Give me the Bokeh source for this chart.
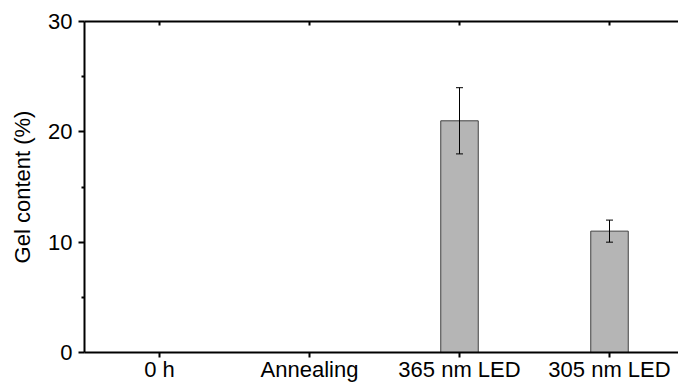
from bokeh.plotting import figure
from bokeh.models import Range1d, LinearAxis, FixedTicker, Whisker, ColumnDataSource
from bokeh.embed import file_html
from bokeh.resources import INLINE

categories = ["0 h", "Annealing", "365 nm LED", "305 nm LED"]
gel_content = [0, 0, 21, 11]
gel_error = [0, 0, 3, 1]

xs = list(range(len(categories)))
src = ColumnDataSource(dict(
    x=[x for x, v in zip(xs, gel_content) if v > 0],
    top=[v for v in gel_content if v > 0],
    upper=[v + e for v, e in zip(gel_content, gel_error) if v > 0],
    lower=[v - e for v, e in zip(gel_content, gel_error) if v > 0],
))

p = figure(width=678, height=384, output_backend="svg", toolbar_location=None,
           x_range=Range1d(-0.5, 3.46), y_range=Range1d(0, 30),
           min_border_left=84, min_border_right=0, min_border_top=21, min_border_bottom=31,
           x_axis_location="below")
p.outline_line_color = None
p.grid.visible = False

p.vbar(x="x", top="top", width=0.25, bottom=0, source=src,
       fill_color="#b5b5b5", line_color="#404040", line_width=1)
w = Whisker(source=src, base="x", upper="upper", lower="lower", line_color="black",
            line_width=1, level="overlay")
w.upper_head.size = 7
w.lower_head.size = 7
w.upper_head.line_width = 1
w.lower_head.line_width = 1
w.upper_head.line_color = "black"
w.lower_head.line_color = "black"
p.add_layout(w)

font = "Liberation Sans"
fs = "22px"
xa = p.xaxis[0]
xa.ticker = FixedTicker(ticks=xs)
xa.major_label_overrides = {i: c for i, c in enumerate(categories)}
xa.major_label_text_font = font
xa.major_label_text_font_size = fs
xa.major_label_text_color = "black"
xa.major_tick_in = 0
xa.major_tick_out = 5
xa.minor_tick_line_color = None
xa.axis_line_width = 2
xa.major_tick_line_width = 2
xa.major_label_standoff = -1

ya = p.yaxis[0]
ya.ticker = FixedTicker(ticks=[0, 10, 20, 30], minor_ticks=[5, 15, 25])
ya.axis_label = "Gel content (%)"
ya.axis_label_text_font = font
ya.axis_label_text_font_style = "normal"
ya.axis_label_text_font_size = fs
ya.axis_label_text_color = "black"
ya.axis_label_standoff = 10
ya.major_label_text_font = font
ya.major_label_text_font_size = fs
ya.major_label_text_color = "black"
ya.major_tick_in = 0
ya.major_tick_out = 6
ya.minor_tick_in = 0
ya.minor_tick_out = 3
ya.axis_line_width = 2
ya.major_tick_line_width = 2
ya.minor_tick_line_width = 2
ya.major_label_standoff = 6

top = LinearAxis(ticker=FixedTicker(ticks=xs), major_label_overrides={i: "" for i in xs},
                 major_tick_in=4, major_tick_out=0, minor_tick_line_color=None,
                 axis_line_width=2, major_tick_line_width=2)
p.add_layout(top, "above")

open("out.html", "w").write(file_html(p, INLINE))
